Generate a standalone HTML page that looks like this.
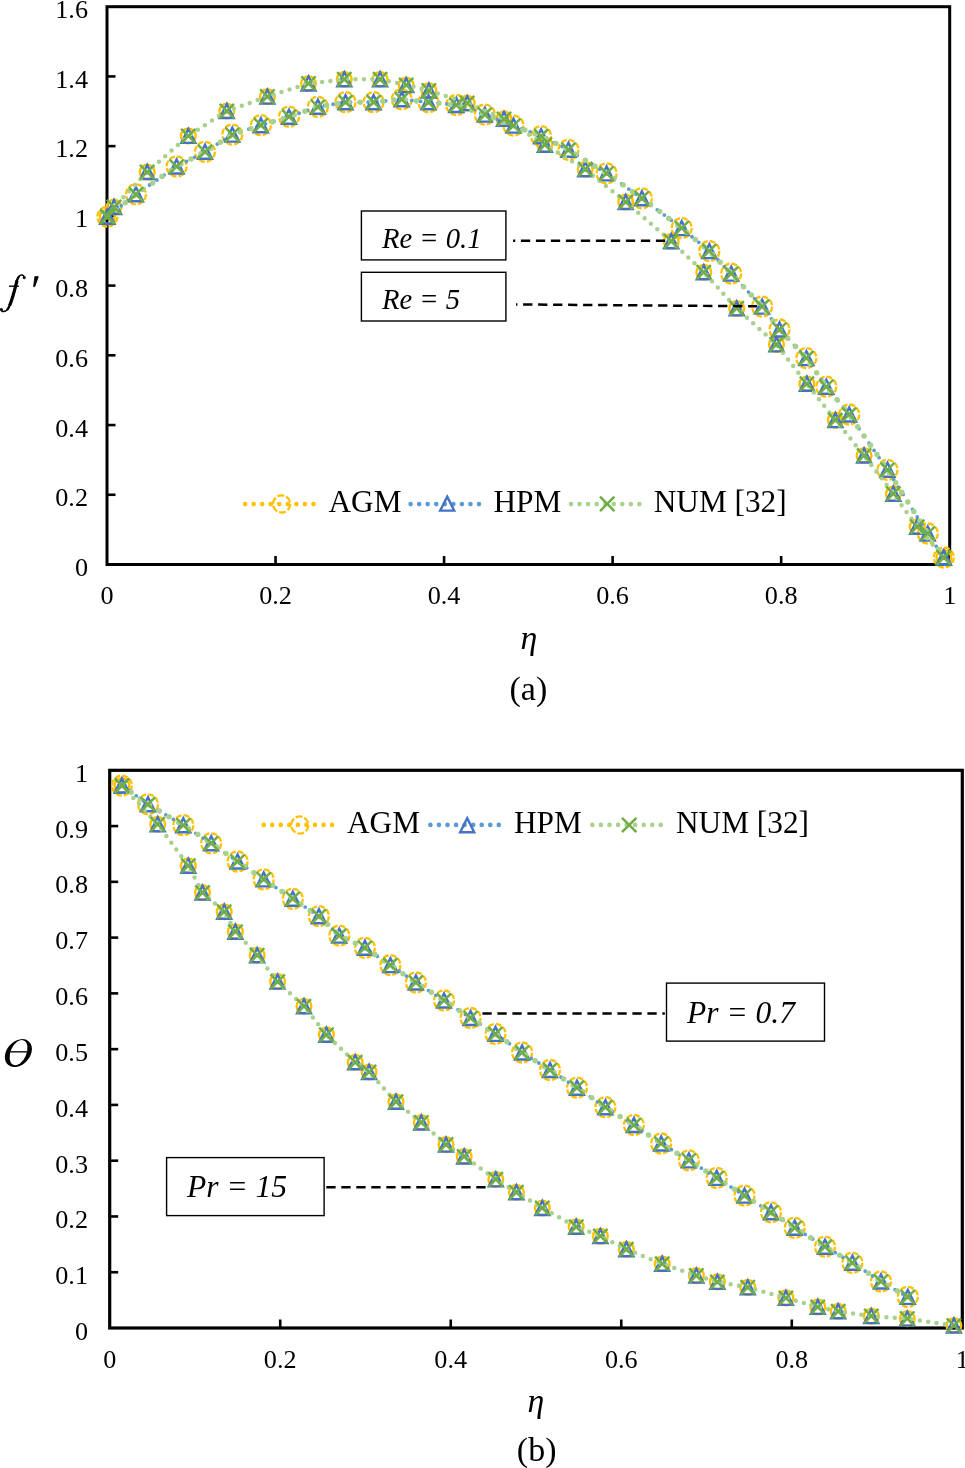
<!DOCTYPE html>
<html><head><meta charset="utf-8"><title>Figure</title>
<style>html,body{margin:0;padding:0;background:#fff;}svg{display:block;will-change:transform;}body{font-family:"Liberation Serif",serif;width:965px;height:1468px;overflow:hidden;}</style>
</head><body>
<svg width="965" height="1468" viewBox="0 0 965 1468" font-family="Liberation Serif, serif" fill="#000">
<rect width="965" height="1468" fill="#fff"/>
<text x="88.0" y="17.6" font-size="26.2" text-anchor="end" >1.6</text>
<line x1="107.0" y1="76.42" x2="115.5" y2="76.42" stroke="#000" stroke-width="2.6"/>
<text x="88.0" y="87.5" font-size="26.2" text-anchor="end" >1.4</text>
<line x1="107.0" y1="146.15" x2="115.5" y2="146.15" stroke="#000" stroke-width="2.6"/>
<text x="88.0" y="157.3" font-size="26.2" text-anchor="end" >1.2</text>
<line x1="107.0" y1="215.87" x2="115.5" y2="215.87" stroke="#000" stroke-width="2.6"/>
<text x="88.0" y="227.1" font-size="26.2" text-anchor="end" >1</text>
<line x1="107.0" y1="285.60" x2="115.5" y2="285.60" stroke="#000" stroke-width="2.6"/>
<text x="88.0" y="296.9" font-size="26.2" text-anchor="end" >0.8</text>
<line x1="107.0" y1="355.32" x2="115.5" y2="355.32" stroke="#000" stroke-width="2.6"/>
<text x="88.0" y="366.7" font-size="26.2" text-anchor="end" >0.6</text>
<line x1="107.0" y1="425.05" x2="115.5" y2="425.05" stroke="#000" stroke-width="2.6"/>
<text x="88.0" y="436.6" font-size="26.2" text-anchor="end" >0.4</text>
<line x1="107.0" y1="494.77" x2="115.5" y2="494.77" stroke="#000" stroke-width="2.6"/>
<text x="88.0" y="506.4" font-size="26.2" text-anchor="end" >0.2</text>
<text x="88.0" y="576.2" font-size="26.2" text-anchor="end" >0</text>
<text x="107.0" y="604.1" font-size="26.2" text-anchor="middle" >0</text>
<line x1="275.54" y1="564.5" x2="275.54" y2="556.0" stroke="#000" stroke-width="2.6"/>
<text x="275.5" y="604.1" font-size="26.2" text-anchor="middle" >0.2</text>
<line x1="444.08" y1="564.5" x2="444.08" y2="556.0" stroke="#000" stroke-width="2.6"/>
<text x="444.1" y="604.1" font-size="26.2" text-anchor="middle" >0.4</text>
<line x1="612.62" y1="564.5" x2="612.62" y2="556.0" stroke="#000" stroke-width="2.6"/>
<text x="612.6" y="604.1" font-size="26.2" text-anchor="middle" >0.6</text>
<line x1="781.16" y1="564.5" x2="781.16" y2="556.0" stroke="#000" stroke-width="2.6"/>
<text x="781.2" y="604.1" font-size="26.2" text-anchor="middle" >0.8</text>
<text x="949.7" y="604.1" font-size="26.2" text-anchor="middle" >1</text>
<rect x="107.0" y="6.7" width="842.7" height="557.8" fill="none" stroke="#000" stroke-width="3"/>
<circle cx="107.4" cy="216.7" r="10.0" fill="none" stroke="#FFC000" stroke-width="2.3" stroke-dasharray="5.8 2.05"/>
<circle cx="136.0" cy="194.3" r="10.0" fill="none" stroke="#FFC000" stroke-width="2.3" stroke-dasharray="5.8 2.05"/>
<circle cx="176.6" cy="166.5" r="10.0" fill="none" stroke="#FFC000" stroke-width="2.3" stroke-dasharray="5.8 2.05"/>
<circle cx="205.0" cy="151.8" r="10.0" fill="none" stroke="#FFC000" stroke-width="2.3" stroke-dasharray="5.8 2.05"/>
<circle cx="232.3" cy="134.6" r="10.0" fill="none" stroke="#FFC000" stroke-width="2.3" stroke-dasharray="5.8 2.05"/>
<circle cx="260.9" cy="125.2" r="10.0" fill="none" stroke="#FFC000" stroke-width="2.3" stroke-dasharray="5.8 2.05"/>
<circle cx="289.0" cy="116.7" r="10.0" fill="none" stroke="#FFC000" stroke-width="2.3" stroke-dasharray="5.8 2.05"/>
<circle cx="317.9" cy="106.8" r="10.0" fill="none" stroke="#FFC000" stroke-width="2.3" stroke-dasharray="5.8 2.05"/>
<circle cx="345.5" cy="102.2" r="10.0" fill="none" stroke="#FFC000" stroke-width="2.3" stroke-dasharray="5.8 2.05"/>
<circle cx="373.6" cy="102.2" r="10.0" fill="none" stroke="#FFC000" stroke-width="2.3" stroke-dasharray="5.8 2.05"/>
<circle cx="401.8" cy="99.3" r="10.0" fill="none" stroke="#FFC000" stroke-width="2.3" stroke-dasharray="5.8 2.05"/>
<circle cx="428.5" cy="102.3" r="10.0" fill="none" stroke="#FFC000" stroke-width="2.3" stroke-dasharray="5.8 2.05"/>
<circle cx="456.3" cy="105.0" r="10.0" fill="none" stroke="#FFC000" stroke-width="2.3" stroke-dasharray="5.8 2.05"/>
<circle cx="484.9" cy="114.6" r="10.0" fill="none" stroke="#FFC000" stroke-width="2.3" stroke-dasharray="5.8 2.05"/>
<circle cx="513.5" cy="125.6" r="10.0" fill="none" stroke="#FFC000" stroke-width="2.3" stroke-dasharray="5.8 2.05"/>
<circle cx="541.1" cy="136.2" r="10.0" fill="none" stroke="#FFC000" stroke-width="2.3" stroke-dasharray="5.8 2.05"/>
<circle cx="568.5" cy="149.8" r="10.0" fill="none" stroke="#FFC000" stroke-width="2.3" stroke-dasharray="5.8 2.05"/>
<circle cx="606.6" cy="173.4" r="10.0" fill="none" stroke="#FFC000" stroke-width="2.3" stroke-dasharray="5.8 2.05"/>
<circle cx="641.9" cy="198.3" r="10.0" fill="none" stroke="#FFC000" stroke-width="2.3" stroke-dasharray="5.8 2.05"/>
<circle cx="681.7" cy="228.1" r="10.0" fill="none" stroke="#FFC000" stroke-width="2.3" stroke-dasharray="5.8 2.05"/>
<circle cx="709.3" cy="251.1" r="10.0" fill="none" stroke="#FFC000" stroke-width="2.3" stroke-dasharray="5.8 2.05"/>
<circle cx="731.2" cy="273.6" r="10.0" fill="none" stroke="#FFC000" stroke-width="2.3" stroke-dasharray="5.8 2.05"/>
<circle cx="762.1" cy="306.6" r="10.0" fill="none" stroke="#FFC000" stroke-width="2.3" stroke-dasharray="5.8 2.05"/>
<circle cx="779.5" cy="329.5" r="10.0" fill="none" stroke="#FFC000" stroke-width="2.3" stroke-dasharray="5.8 2.05"/>
<circle cx="806.4" cy="358.1" r="10.0" fill="none" stroke="#FFC000" stroke-width="2.3" stroke-dasharray="5.8 2.05"/>
<circle cx="826.3" cy="386.7" r="10.0" fill="none" stroke="#FFC000" stroke-width="2.3" stroke-dasharray="5.8 2.05"/>
<circle cx="849.2" cy="414.5" r="10.0" fill="none" stroke="#FFC000" stroke-width="2.3" stroke-dasharray="5.8 2.05"/>
<circle cx="887.5" cy="469.8" r="10.0" fill="none" stroke="#FFC000" stroke-width="2.3" stroke-dasharray="5.8 2.05"/>
<circle cx="927.8" cy="533.5" r="10.0" fill="none" stroke="#FFC000" stroke-width="2.3" stroke-dasharray="5.8 2.05"/>
<circle cx="943.8" cy="557.5" r="10.0" fill="none" stroke="#FFC000" stroke-width="2.3" stroke-dasharray="5.8 2.05"/>
<circle cx="107.4" cy="216.7" r="7.35" fill="none" stroke="#FFC000" stroke-width="2.4" stroke-dasharray="none"/>
<circle cx="114.1" cy="207.0" r="7.35" fill="none" stroke="#FFC000" stroke-width="2.4" stroke-dasharray="none"/>
<circle cx="147.2" cy="172.0" r="7.35" fill="none" stroke="#FFC000" stroke-width="2.4" stroke-dasharray="none"/>
<circle cx="188.3" cy="135.9" r="7.35" fill="none" stroke="#FFC000" stroke-width="2.4" stroke-dasharray="none"/>
<circle cx="226.8" cy="111.0" r="7.35" fill="none" stroke="#FFC000" stroke-width="2.4" stroke-dasharray="none"/>
<circle cx="267.4" cy="96.6" r="7.35" fill="none" stroke="#FFC000" stroke-width="2.4" stroke-dasharray="none"/>
<circle cx="308.5" cy="83.5" r="7.35" fill="none" stroke="#FFC000" stroke-width="2.4" stroke-dasharray="none"/>
<circle cx="344.3" cy="79.3" r="7.35" fill="none" stroke="#FFC000" stroke-width="2.4" stroke-dasharray="none"/>
<circle cx="380.1" cy="79.3" r="7.35" fill="none" stroke="#FFC000" stroke-width="2.4" stroke-dasharray="none"/>
<circle cx="406.2" cy="85.1" r="7.35" fill="none" stroke="#FFC000" stroke-width="2.4" stroke-dasharray="none"/>
<circle cx="428.9" cy="90.6" r="7.35" fill="none" stroke="#FFC000" stroke-width="2.4" stroke-dasharray="none"/>
<circle cx="467.2" cy="103.1" r="7.35" fill="none" stroke="#FFC000" stroke-width="2.4" stroke-dasharray="none"/>
<circle cx="504.0" cy="118.9" r="7.35" fill="none" stroke="#FFC000" stroke-width="2.4" stroke-dasharray="none"/>
<circle cx="544.9" cy="144.8" r="7.35" fill="none" stroke="#FFC000" stroke-width="2.4" stroke-dasharray="none"/>
<circle cx="585.2" cy="169.2" r="7.35" fill="none" stroke="#FFC000" stroke-width="2.4" stroke-dasharray="none"/>
<circle cx="625.7" cy="202.0" r="7.35" fill="none" stroke="#FFC000" stroke-width="2.4" stroke-dasharray="none"/>
<circle cx="671.2" cy="241.3" r="7.35" fill="none" stroke="#FFC000" stroke-width="2.4" stroke-dasharray="none"/>
<circle cx="703.8" cy="272.2" r="7.35" fill="none" stroke="#FFC000" stroke-width="2.4" stroke-dasharray="none"/>
<circle cx="736.7" cy="308.4" r="7.35" fill="none" stroke="#FFC000" stroke-width="2.4" stroke-dasharray="none"/>
<circle cx="776.5" cy="344.4" r="7.35" fill="none" stroke="#FFC000" stroke-width="2.4" stroke-dasharray="none"/>
<circle cx="806.9" cy="383.7" r="7.35" fill="none" stroke="#FFC000" stroke-width="2.4" stroke-dasharray="none"/>
<circle cx="835.4" cy="420.1" r="7.35" fill="none" stroke="#FFC000" stroke-width="2.4" stroke-dasharray="none"/>
<circle cx="864.1" cy="455.5" r="7.35" fill="none" stroke="#FFC000" stroke-width="2.4" stroke-dasharray="none"/>
<circle cx="893.4" cy="493.8" r="7.35" fill="none" stroke="#FFC000" stroke-width="2.4" stroke-dasharray="none"/>
<circle cx="917.2" cy="526.7" r="7.35" fill="none" stroke="#FFC000" stroke-width="2.4" stroke-dasharray="none"/>
<circle cx="943.8" cy="557.5" r="7.35" fill="none" stroke="#FFC000" stroke-width="2.4" stroke-dasharray="none"/>
<polyline points="107.4,216.7 136.0,194.3 176.6,166.5 205.0,151.8 232.3,134.6 260.9,125.2 289.0,116.7 317.9,106.8 345.5,102.2 373.6,102.2 401.8,99.3 428.5,102.3 456.3,105.0 484.9,114.6 513.5,125.6 541.1,136.2 568.5,149.8 606.6,173.4 641.9,198.3 681.7,228.1 709.3,251.1 731.2,273.6 762.1,306.6 779.5,329.5 806.4,358.1 826.3,386.7 849.2,414.5 887.5,469.8 927.8,533.5 943.8,557.5" fill="none" stroke="#5B9BD5" stroke-width="3.8" stroke-linecap="round" stroke-linejoin="round" stroke-dasharray="0 8.8" />
<path d="M100.4,223.7 L107.4,209.7 L114.4,223.7 Z" fill="none" stroke="#4472C4" stroke-width="2.4" stroke-linejoin="miter"/>
<path d="M129.0,201.3 L136.0,187.3 L143.0,201.3 Z" fill="none" stroke="#4472C4" stroke-width="2.4" stroke-linejoin="miter"/>
<path d="M169.6,173.5 L176.6,159.5 L183.6,173.5 Z" fill="none" stroke="#4472C4" stroke-width="2.4" stroke-linejoin="miter"/>
<path d="M198.0,158.8 L205.0,144.8 L212.0,158.8 Z" fill="none" stroke="#4472C4" stroke-width="2.4" stroke-linejoin="miter"/>
<path d="M225.3,141.6 L232.3,127.6 L239.3,141.6 Z" fill="none" stroke="#4472C4" stroke-width="2.4" stroke-linejoin="miter"/>
<path d="M253.9,132.2 L260.9,118.2 L267.9,132.2 Z" fill="none" stroke="#4472C4" stroke-width="2.4" stroke-linejoin="miter"/>
<path d="M282.0,123.7 L289.0,109.7 L296.0,123.7 Z" fill="none" stroke="#4472C4" stroke-width="2.4" stroke-linejoin="miter"/>
<path d="M310.9,113.8 L317.9,99.8 L324.9,113.8 Z" fill="none" stroke="#4472C4" stroke-width="2.4" stroke-linejoin="miter"/>
<path d="M338.5,109.2 L345.5,95.2 L352.5,109.2 Z" fill="none" stroke="#4472C4" stroke-width="2.4" stroke-linejoin="miter"/>
<path d="M366.6,109.2 L373.6,95.2 L380.6,109.2 Z" fill="none" stroke="#4472C4" stroke-width="2.4" stroke-linejoin="miter"/>
<path d="M394.8,106.3 L401.8,92.3 L408.8,106.3 Z" fill="none" stroke="#4472C4" stroke-width="2.4" stroke-linejoin="miter"/>
<path d="M421.5,109.3 L428.5,95.3 L435.5,109.3 Z" fill="none" stroke="#4472C4" stroke-width="2.4" stroke-linejoin="miter"/>
<path d="M449.3,112.0 L456.3,98.0 L463.3,112.0 Z" fill="none" stroke="#4472C4" stroke-width="2.4" stroke-linejoin="miter"/>
<path d="M477.9,121.6 L484.9,107.6 L491.9,121.6 Z" fill="none" stroke="#4472C4" stroke-width="2.4" stroke-linejoin="miter"/>
<path d="M506.5,132.6 L513.5,118.6 L520.5,132.6 Z" fill="none" stroke="#4472C4" stroke-width="2.4" stroke-linejoin="miter"/>
<path d="M534.1,143.2 L541.1,129.2 L548.1,143.2 Z" fill="none" stroke="#4472C4" stroke-width="2.4" stroke-linejoin="miter"/>
<path d="M561.5,156.8 L568.5,142.8 L575.5,156.8 Z" fill="none" stroke="#4472C4" stroke-width="2.4" stroke-linejoin="miter"/>
<path d="M599.6,180.4 L606.6,166.4 L613.6,180.4 Z" fill="none" stroke="#4472C4" stroke-width="2.4" stroke-linejoin="miter"/>
<path d="M634.9,205.3 L641.9,191.3 L648.9,205.3 Z" fill="none" stroke="#4472C4" stroke-width="2.4" stroke-linejoin="miter"/>
<path d="M674.7,235.1 L681.7,221.1 L688.7,235.1 Z" fill="none" stroke="#4472C4" stroke-width="2.4" stroke-linejoin="miter"/>
<path d="M702.3,258.1 L709.3,244.1 L716.3,258.1 Z" fill="none" stroke="#4472C4" stroke-width="2.4" stroke-linejoin="miter"/>
<path d="M724.2,280.6 L731.2,266.6 L738.2,280.6 Z" fill="none" stroke="#4472C4" stroke-width="2.4" stroke-linejoin="miter"/>
<path d="M755.1,313.6 L762.1,299.6 L769.1,313.6 Z" fill="none" stroke="#4472C4" stroke-width="2.4" stroke-linejoin="miter"/>
<path d="M772.5,336.5 L779.5,322.5 L786.5,336.5 Z" fill="none" stroke="#4472C4" stroke-width="2.4" stroke-linejoin="miter"/>
<path d="M799.4,365.1 L806.4,351.1 L813.4,365.1 Z" fill="none" stroke="#4472C4" stroke-width="2.4" stroke-linejoin="miter"/>
<path d="M819.3,393.7 L826.3,379.7 L833.3,393.7 Z" fill="none" stroke="#4472C4" stroke-width="2.4" stroke-linejoin="miter"/>
<path d="M842.2,421.5 L849.2,407.5 L856.2,421.5 Z" fill="none" stroke="#4472C4" stroke-width="2.4" stroke-linejoin="miter"/>
<path d="M880.5,476.8 L887.5,462.8 L894.5,476.8 Z" fill="none" stroke="#4472C4" stroke-width="2.4" stroke-linejoin="miter"/>
<path d="M920.8,540.5 L927.8,526.5 L934.8,540.5 Z" fill="none" stroke="#4472C4" stroke-width="2.4" stroke-linejoin="miter"/>
<path d="M936.8,564.5 L943.8,550.5 L950.8,564.5 Z" fill="none" stroke="#4472C4" stroke-width="2.4" stroke-linejoin="miter"/>
<path d="M100.4,223.7 L107.4,209.7 L114.4,223.7 Z" fill="none" stroke="#4472C4" stroke-width="2.4" stroke-linejoin="miter"/>
<path d="M107.1,214.0 L114.1,200.0 L121.1,214.0 Z" fill="none" stroke="#4472C4" stroke-width="2.4" stroke-linejoin="miter"/>
<path d="M140.2,179.0 L147.2,165.0 L154.2,179.0 Z" fill="none" stroke="#4472C4" stroke-width="2.4" stroke-linejoin="miter"/>
<path d="M181.3,142.9 L188.3,128.9 L195.3,142.9 Z" fill="none" stroke="#4472C4" stroke-width="2.4" stroke-linejoin="miter"/>
<path d="M219.8,118.0 L226.8,104.0 L233.8,118.0 Z" fill="none" stroke="#4472C4" stroke-width="2.4" stroke-linejoin="miter"/>
<path d="M260.4,103.6 L267.4,89.6 L274.4,103.6 Z" fill="none" stroke="#4472C4" stroke-width="2.4" stroke-linejoin="miter"/>
<path d="M301.5,90.5 L308.5,76.5 L315.5,90.5 Z" fill="none" stroke="#4472C4" stroke-width="2.4" stroke-linejoin="miter"/>
<path d="M337.3,86.3 L344.3,72.3 L351.3,86.3 Z" fill="none" stroke="#4472C4" stroke-width="2.4" stroke-linejoin="miter"/>
<path d="M373.1,86.3 L380.1,72.3 L387.1,86.3 Z" fill="none" stroke="#4472C4" stroke-width="2.4" stroke-linejoin="miter"/>
<path d="M399.2,92.1 L406.2,78.1 L413.2,92.1 Z" fill="none" stroke="#4472C4" stroke-width="2.4" stroke-linejoin="miter"/>
<path d="M421.9,97.6 L428.9,83.6 L435.9,97.6 Z" fill="none" stroke="#4472C4" stroke-width="2.4" stroke-linejoin="miter"/>
<path d="M460.2,110.1 L467.2,96.1 L474.2,110.1 Z" fill="none" stroke="#4472C4" stroke-width="2.4" stroke-linejoin="miter"/>
<path d="M497.0,125.9 L504.0,111.9 L511.0,125.9 Z" fill="none" stroke="#4472C4" stroke-width="2.4" stroke-linejoin="miter"/>
<path d="M537.9,151.8 L544.9,137.8 L551.9,151.8 Z" fill="none" stroke="#4472C4" stroke-width="2.4" stroke-linejoin="miter"/>
<path d="M578.2,176.2 L585.2,162.2 L592.2,176.2 Z" fill="none" stroke="#4472C4" stroke-width="2.4" stroke-linejoin="miter"/>
<path d="M618.7,209.0 L625.7,195.0 L632.7,209.0 Z" fill="none" stroke="#4472C4" stroke-width="2.4" stroke-linejoin="miter"/>
<path d="M664.2,248.3 L671.2,234.3 L678.2,248.3 Z" fill="none" stroke="#4472C4" stroke-width="2.4" stroke-linejoin="miter"/>
<path d="M696.8,279.2 L703.8,265.2 L710.8,279.2 Z" fill="none" stroke="#4472C4" stroke-width="2.4" stroke-linejoin="miter"/>
<path d="M729.7,315.4 L736.7,301.4 L743.7,315.4 Z" fill="none" stroke="#4472C4" stroke-width="2.4" stroke-linejoin="miter"/>
<path d="M769.5,351.4 L776.5,337.4 L783.5,351.4 Z" fill="none" stroke="#4472C4" stroke-width="2.4" stroke-linejoin="miter"/>
<path d="M799.9,390.7 L806.9,376.7 L813.9,390.7 Z" fill="none" stroke="#4472C4" stroke-width="2.4" stroke-linejoin="miter"/>
<path d="M828.4,427.1 L835.4,413.1 L842.4,427.1 Z" fill="none" stroke="#4472C4" stroke-width="2.4" stroke-linejoin="miter"/>
<path d="M857.1,462.5 L864.1,448.5 L871.1,462.5 Z" fill="none" stroke="#4472C4" stroke-width="2.4" stroke-linejoin="miter"/>
<path d="M886.4,500.8 L893.4,486.8 L900.4,500.8 Z" fill="none" stroke="#4472C4" stroke-width="2.4" stroke-linejoin="miter"/>
<path d="M910.2,533.7 L917.2,519.7 L924.2,533.7 Z" fill="none" stroke="#4472C4" stroke-width="2.4" stroke-linejoin="miter"/>
<path d="M936.8,564.5 L943.8,550.5 L950.8,564.5 Z" fill="none" stroke="#4472C4" stroke-width="2.4" stroke-linejoin="miter"/>
<polyline points="107.4,216.7 136.0,194.3 176.6,166.5 205.0,151.8 232.3,134.6 260.9,125.2 289.0,116.7 317.9,106.8 345.5,102.2 373.6,102.2 401.8,99.3 428.5,102.3 456.3,105.0 484.9,114.6 513.5,125.6 541.1,136.2 568.5,149.8 606.6,173.4 641.9,198.3 681.7,228.1 709.3,251.1 731.2,273.6 762.1,306.6 779.5,329.5 806.4,358.1 826.3,386.7 849.2,414.5 887.5,469.8 927.8,533.5 943.8,557.5" fill="none" stroke="#A9D18E" stroke-width="5.5" stroke-linecap="round" stroke-linejoin="round" stroke-dasharray="0 11.3" />
<polyline points="107.4,216.7 114.1,207.0 147.2,172.0 188.3,135.9 226.8,111.0 267.4,96.6 308.5,83.5 344.3,79.3 380.1,79.3 406.2,85.1 428.9,90.6 467.2,103.1 504.0,118.9 544.9,144.8 585.2,169.2 625.7,202.0 671.2,241.3 703.8,272.2 736.7,308.4 776.5,344.4 806.9,383.7 835.4,420.1 864.1,455.5 893.4,493.8 917.2,526.7 943.8,557.5" fill="none" stroke="#A9D18E" stroke-width="4.5" stroke-linecap="round" stroke-linejoin="round" stroke-dasharray="0 8.4" />
<path d="M100.2,209.5 L114.6,223.8 M100.2,223.8 L114.6,209.5" fill="none" stroke="#70AD47" stroke-width="2.5"/>
<path d="M128.8,187.2 L143.2,201.5 M128.8,201.5 L143.2,187.2" fill="none" stroke="#70AD47" stroke-width="2.5"/>
<path d="M169.4,159.3 L183.8,173.7 M169.4,173.7 L183.8,159.3" fill="none" stroke="#70AD47" stroke-width="2.5"/>
<path d="M197.8,144.7 L212.2,159.0 M197.8,159.0 L212.2,144.7" fill="none" stroke="#70AD47" stroke-width="2.5"/>
<path d="M225.2,127.4 L239.5,141.8 M225.2,141.8 L239.5,127.4" fill="none" stroke="#70AD47" stroke-width="2.5"/>
<path d="M253.7,118.0 L268.0,132.3 M253.7,132.3 L268.0,118.0" fill="none" stroke="#70AD47" stroke-width="2.5"/>
<path d="M281.9,109.5 L296.1,123.9 M281.9,123.9 L296.1,109.5" fill="none" stroke="#70AD47" stroke-width="2.5"/>
<path d="M310.8,99.6 L325.0,114.0 M310.8,114.0 L325.0,99.6" fill="none" stroke="#70AD47" stroke-width="2.5"/>
<path d="M338.4,95.0 L352.6,109.4 M338.4,109.4 L352.6,95.0" fill="none" stroke="#70AD47" stroke-width="2.5"/>
<path d="M366.5,95.0 L380.8,109.4 M366.5,109.4 L380.8,95.0" fill="none" stroke="#70AD47" stroke-width="2.5"/>
<path d="M394.7,92.1 L408.9,106.5 M394.7,106.5 L408.9,92.1" fill="none" stroke="#70AD47" stroke-width="2.5"/>
<path d="M421.4,95.1 L435.6,109.5 M421.4,109.5 L435.6,95.1" fill="none" stroke="#70AD47" stroke-width="2.5"/>
<path d="M449.2,97.8 L463.4,112.2 M449.2,112.2 L463.4,97.8" fill="none" stroke="#70AD47" stroke-width="2.5"/>
<path d="M477.8,107.4 L492.0,121.8 M477.8,121.8 L492.0,107.4" fill="none" stroke="#70AD47" stroke-width="2.5"/>
<path d="M506.4,118.4 L520.6,132.8 M506.4,132.8 L520.6,118.4" fill="none" stroke="#70AD47" stroke-width="2.5"/>
<path d="M534.0,129.0 L548.2,143.3 M534.0,143.3 L548.2,129.0" fill="none" stroke="#70AD47" stroke-width="2.5"/>
<path d="M561.4,142.7 L575.6,157.0 M561.4,157.0 L575.6,142.7" fill="none" stroke="#70AD47" stroke-width="2.5"/>
<path d="M599.5,166.2 L613.8,180.6 M599.5,180.6 L613.8,166.2" fill="none" stroke="#70AD47" stroke-width="2.5"/>
<path d="M634.8,191.2 L649.0,205.5 M634.8,205.5 L649.0,191.2" fill="none" stroke="#70AD47" stroke-width="2.5"/>
<path d="M674.6,220.9 L688.9,235.2 M674.6,235.2 L688.9,220.9" fill="none" stroke="#70AD47" stroke-width="2.5"/>
<path d="M702.1,243.9 L716.4,258.2 M702.1,258.2 L716.4,243.9" fill="none" stroke="#70AD47" stroke-width="2.5"/>
<path d="M724.1,266.5 L738.4,280.8 M724.1,280.8 L738.4,266.5" fill="none" stroke="#70AD47" stroke-width="2.5"/>
<path d="M755.0,299.5 L769.2,313.8 M755.0,313.8 L769.2,299.5" fill="none" stroke="#70AD47" stroke-width="2.5"/>
<path d="M772.4,322.4 L786.6,336.6 M772.4,336.6 L786.6,322.4" fill="none" stroke="#70AD47" stroke-width="2.5"/>
<path d="M799.2,351.0 L813.5,365.2 M799.2,365.2 L813.5,351.0" fill="none" stroke="#70AD47" stroke-width="2.5"/>
<path d="M819.1,379.6 L833.4,393.8 M819.1,393.8 L833.4,379.6" fill="none" stroke="#70AD47" stroke-width="2.5"/>
<path d="M842.1,407.4 L856.4,421.6 M842.1,421.6 L856.4,407.4" fill="none" stroke="#70AD47" stroke-width="2.5"/>
<path d="M880.4,462.7 L894.6,476.9 M880.4,476.9 L894.6,462.7" fill="none" stroke="#70AD47" stroke-width="2.5"/>
<path d="M920.6,526.4 L934.9,540.6 M920.6,540.6 L934.9,526.4" fill="none" stroke="#70AD47" stroke-width="2.5"/>
<path d="M936.6,550.4 L950.9,564.6 M936.6,564.6 L950.9,550.4" fill="none" stroke="#70AD47" stroke-width="2.5"/>
<path d="M100.2,209.5 L114.6,223.8 M100.2,223.8 L114.6,209.5" fill="none" stroke="#70AD47" stroke-width="2.5"/>
<path d="M106.9,199.8 L121.2,214.2 M106.9,214.2 L121.2,199.8" fill="none" stroke="#70AD47" stroke-width="2.5"/>
<path d="M140.0,164.8 L154.3,179.2 M140.0,179.2 L154.3,164.8" fill="none" stroke="#70AD47" stroke-width="2.5"/>
<path d="M181.2,128.8 L195.5,143.1 M181.2,143.1 L195.5,128.8" fill="none" stroke="#70AD47" stroke-width="2.5"/>
<path d="M219.7,103.8 L234.0,118.2 M219.7,118.2 L234.0,103.8" fill="none" stroke="#70AD47" stroke-width="2.5"/>
<path d="M260.2,89.4 L274.5,103.8 M260.2,103.8 L274.5,89.4" fill="none" stroke="#70AD47" stroke-width="2.5"/>
<path d="M301.4,76.3 L315.6,90.7 M301.4,90.7 L315.6,76.3" fill="none" stroke="#70AD47" stroke-width="2.5"/>
<path d="M337.2,72.1 L351.4,86.5 M337.2,86.5 L351.4,72.1" fill="none" stroke="#70AD47" stroke-width="2.5"/>
<path d="M373.0,72.1 L387.2,86.5 M373.0,86.5 L387.2,72.1" fill="none" stroke="#70AD47" stroke-width="2.5"/>
<path d="M399.1,77.9 L413.3,92.2 M399.1,92.2 L413.3,77.9" fill="none" stroke="#70AD47" stroke-width="2.5"/>
<path d="M421.8,83.4 L436.0,97.8 M421.8,97.8 L436.0,83.4" fill="none" stroke="#70AD47" stroke-width="2.5"/>
<path d="M460.1,95.9 L474.3,110.2 M460.1,110.2 L474.3,95.9" fill="none" stroke="#70AD47" stroke-width="2.5"/>
<path d="M496.9,111.8 L511.1,126.1 M496.9,126.1 L511.1,111.8" fill="none" stroke="#70AD47" stroke-width="2.5"/>
<path d="M537.8,137.7 L552.0,152.0 M537.8,152.0 L552.0,137.7" fill="none" stroke="#70AD47" stroke-width="2.5"/>
<path d="M578.1,162.0 L592.4,176.3 M578.1,176.3 L592.4,162.0" fill="none" stroke="#70AD47" stroke-width="2.5"/>
<path d="M618.6,194.8 L632.9,209.2 M618.6,209.2 L632.9,194.8" fill="none" stroke="#70AD47" stroke-width="2.5"/>
<path d="M664.1,234.2 L678.4,248.5 M664.1,248.5 L678.4,234.2" fill="none" stroke="#70AD47" stroke-width="2.5"/>
<path d="M696.6,265.1 L710.9,279.3 M696.6,279.3 L710.9,265.1" fill="none" stroke="#70AD47" stroke-width="2.5"/>
<path d="M729.6,301.2 L743.9,315.5 M729.6,315.5 L743.9,301.2" fill="none" stroke="#70AD47" stroke-width="2.5"/>
<path d="M769.4,337.2 L783.6,351.5 M769.4,351.5 L783.6,337.2" fill="none" stroke="#70AD47" stroke-width="2.5"/>
<path d="M799.8,376.6 L814.0,390.8 M799.8,390.8 L814.0,376.6" fill="none" stroke="#70AD47" stroke-width="2.5"/>
<path d="M828.2,413.0 L842.5,427.2 M828.2,427.2 L842.5,413.0" fill="none" stroke="#70AD47" stroke-width="2.5"/>
<path d="M857.0,448.4 L871.2,462.6 M857.0,462.6 L871.2,448.4" fill="none" stroke="#70AD47" stroke-width="2.5"/>
<path d="M886.2,486.7 L900.5,500.9 M886.2,500.9 L900.5,486.7" fill="none" stroke="#70AD47" stroke-width="2.5"/>
<path d="M910.1,519.6 L924.4,533.9 M910.1,533.9 L924.4,519.6" fill="none" stroke="#70AD47" stroke-width="2.5"/>
<path d="M936.6,550.4 L950.9,564.6 M936.6,564.6 L950.9,550.4" fill="none" stroke="#70AD47" stroke-width="2.5"/>
<line x1="513.1" y1="240.7" x2="666" y2="240.7" stroke="#000" stroke-width="2.5" stroke-dasharray="9.3 5.7" stroke-dashoffset="7.2"/>
<line x1="516" y1="304.4" x2="757" y2="306.3" stroke="#000" stroke-width="2.5" stroke-dasharray="9.3 5.7" stroke-dashoffset="7.9"/>
<rect x="361.4" y="211" width="144.5" height="48.9" fill="#fff" stroke="#000" stroke-width="1.4"/>
<rect x="361.4" y="272.3" width="144.5" height="48.7" fill="#fff" stroke="#000" stroke-width="1.4"/>
<text x="382.0" y="247.8" font-size="28.6" text-anchor="start" font-style="italic" >Re = 0.1</text>
<text x="382.0" y="308.6" font-size="28.6" text-anchor="start" font-style="italic" >Re = 5</text>
<line x1="245.1" y1="504.1" x2="313.7" y2="504.1" stroke="#FFC000" stroke-width="4.6" stroke-linecap="round" stroke-dasharray="0 8.55"/>
<line x1="410.6" y1="504.1" x2="479.20000000000005" y2="504.1" stroke="#5B9BD5" stroke-width="4.6" stroke-linecap="round" stroke-dasharray="0 8.55"/>
<line x1="571.0" y1="504.1" x2="639.6" y2="504.1" stroke="#A9D18E" stroke-width="4.6" stroke-linecap="round" stroke-dasharray="0 8.55"/>
<circle cx="281.6" cy="503.9" r="8.6" fill="none" stroke="#FFC000" stroke-width="2.3" stroke-dasharray="6.9 2.1"/>
<path d="M440.2,510.6 L447.2,496.6 L454.2,510.6 Z" fill="none" stroke="#4472C4" stroke-width="2.4" stroke-linejoin="miter"/>
<path d="M600.0,496.7 L614.4,511.1 M600.0,511.1 L614.4,496.7" fill="none" stroke="#70AD47" stroke-width="2.5"/>
<text x="328.5" y="512.2" font-size="31.3" text-anchor="start" >AGM</text>
<text x="493.4" y="512.2" font-size="31.3" text-anchor="start" >HPM</text>
<text x="653.7" y="512.2" font-size="31.3" text-anchor="start" >NUM [32]</text>
<g fill="none" stroke="#000" stroke-linecap="round"><path d="M24.2,277.0 C23.9,275.6 22.6,274.9 21.5,275.0 C19.6,275.2 18.0,277.3 17.2,279.8" stroke-width="1.5"/><path d="M18.7,276.9 C17.9,278.0 17.3,279.3 16.8,281.0" stroke-width="2.3"/><path d="M17.0,280.5 C15.6,286.0 13.0,297.5 9.6,305.6" stroke-width="3.2" stroke-linecap="butt"/><path d="M9.9,304.8 C9.2,306.6 8.4,308.2 7.4,309.4" stroke-width="2.3"/><path d="M9.4,306.2 C8.0,309.3 6.0,311.5 3.4,311.6 C2.2,311.6 1.4,310.8 1.3,309.6" stroke-width="1.5"/><path d="M9.1,286.2 L18.9,286.2" stroke-width="1.4" stroke-linecap="butt"/></g>
<circle cx="24.3" cy="277.6" r="1.55"/><circle cx="1.4" cy="309.5" r="1.55"/>
<path d="M34.9,276.5 L38.3,276.7 L34.8,286.6 L33.6,286.6 Z" fill="#000" stroke="#000" stroke-width="0.8" stroke-linejoin="round"/>
<text x="528.8" y="649.0" font-size="33.8" text-anchor="middle" font-style="italic" >η</text>
<text x="528.4" y="699.6" font-size="34" text-anchor="middle" >(a)</text>
<text x="88.0" y="781.8" font-size="26.2" text-anchor="end" >1</text>
<line x1="109.7" y1="826.07" x2="118.2" y2="826.07" stroke="#000" stroke-width="2.6"/>
<text x="88.0" y="837.6" font-size="26.2" text-anchor="end" >0.9</text>
<line x1="109.7" y1="881.84" x2="118.2" y2="881.84" stroke="#000" stroke-width="2.6"/>
<text x="88.0" y="893.4" font-size="26.2" text-anchor="end" >0.8</text>
<line x1="109.7" y1="937.61" x2="118.2" y2="937.61" stroke="#000" stroke-width="2.6"/>
<text x="88.0" y="949.3" font-size="26.2" text-anchor="end" >0.7</text>
<line x1="109.7" y1="993.38" x2="118.2" y2="993.38" stroke="#000" stroke-width="2.6"/>
<text x="88.0" y="1005.1" font-size="26.2" text-anchor="end" >0.6</text>
<line x1="109.7" y1="1049.15" x2="118.2" y2="1049.15" stroke="#000" stroke-width="2.6"/>
<text x="88.0" y="1060.9" font-size="26.2" text-anchor="end" >0.5</text>
<line x1="109.7" y1="1104.92" x2="118.2" y2="1104.92" stroke="#000" stroke-width="2.6"/>
<text x="88.0" y="1116.7" font-size="26.2" text-anchor="end" >0.4</text>
<line x1="109.7" y1="1160.69" x2="118.2" y2="1160.69" stroke="#000" stroke-width="2.6"/>
<text x="88.0" y="1172.5" font-size="26.2" text-anchor="end" >0.3</text>
<line x1="109.7" y1="1216.46" x2="118.2" y2="1216.46" stroke="#000" stroke-width="2.6"/>
<text x="88.0" y="1228.4" font-size="26.2" text-anchor="end" >0.2</text>
<line x1="109.7" y1="1272.23" x2="118.2" y2="1272.23" stroke="#000" stroke-width="2.6"/>
<text x="88.0" y="1284.2" font-size="26.2" text-anchor="end" >0.1</text>
<text x="88.0" y="1340.0" font-size="26.2" text-anchor="end" >0</text>
<text x="109.7" y="1368.0" font-size="26.2" text-anchor="middle" >0</text>
<line x1="280.22" y1="1328.0" x2="280.22" y2="1319.5" stroke="#000" stroke-width="2.6"/>
<text x="280.2" y="1368.0" font-size="26.2" text-anchor="middle" >0.2</text>
<line x1="450.74" y1="1328.0" x2="450.74" y2="1319.5" stroke="#000" stroke-width="2.6"/>
<text x="450.7" y="1368.0" font-size="26.2" text-anchor="middle" >0.4</text>
<line x1="621.26" y1="1328.0" x2="621.26" y2="1319.5" stroke="#000" stroke-width="2.6"/>
<text x="621.3" y="1368.0" font-size="26.2" text-anchor="middle" >0.6</text>
<line x1="791.78" y1="1328.0" x2="791.78" y2="1319.5" stroke="#000" stroke-width="2.6"/>
<text x="791.8" y="1368.0" font-size="26.2" text-anchor="middle" >0.8</text>
<text x="962.3" y="1368.0" font-size="26.2" text-anchor="middle" >1</text>
<rect x="109.7" y="770.3" width="852.60" height="557.70" fill="none" stroke="#000" stroke-width="3.2"/>
<circle cx="121.9" cy="785.6" r="10.0" fill="none" stroke="#FFC000" stroke-width="2.3" stroke-dasharray="5.8 2.05"/>
<circle cx="148.0" cy="804.3" r="10.0" fill="none" stroke="#FFC000" stroke-width="2.3" stroke-dasharray="5.8 2.05"/>
<circle cx="183.3" cy="825.2" r="10.0" fill="none" stroke="#FFC000" stroke-width="2.3" stroke-dasharray="5.8 2.05"/>
<circle cx="211.2" cy="843.3" r="10.0" fill="none" stroke="#FFC000" stroke-width="2.3" stroke-dasharray="5.8 2.05"/>
<circle cx="237.6" cy="861.5" r="10.0" fill="none" stroke="#FFC000" stroke-width="2.3" stroke-dasharray="5.8 2.05"/>
<circle cx="263.7" cy="879.4" r="10.0" fill="none" stroke="#FFC000" stroke-width="2.3" stroke-dasharray="5.8 2.05"/>
<circle cx="292.8" cy="898.8" r="10.0" fill="none" stroke="#FFC000" stroke-width="2.3" stroke-dasharray="5.8 2.05"/>
<circle cx="318.9" cy="916.2" r="10.0" fill="none" stroke="#FFC000" stroke-width="2.3" stroke-dasharray="5.8 2.05"/>
<circle cx="339.3" cy="935.6" r="10.0" fill="none" stroke="#FFC000" stroke-width="2.3" stroke-dasharray="5.8 2.05"/>
<circle cx="364.9" cy="947.8" r="10.0" fill="none" stroke="#FFC000" stroke-width="2.3" stroke-dasharray="5.8 2.05"/>
<circle cx="390.4" cy="965.1" r="10.0" fill="none" stroke="#FFC000" stroke-width="2.3" stroke-dasharray="5.8 2.05"/>
<circle cx="415.9" cy="982.5" r="10.0" fill="none" stroke="#FFC000" stroke-width="2.3" stroke-dasharray="5.8 2.05"/>
<circle cx="444.0" cy="1000.5" r="10.0" fill="none" stroke="#FFC000" stroke-width="2.3" stroke-dasharray="5.8 2.05"/>
<circle cx="470.6" cy="1018.0" r="10.0" fill="none" stroke="#FFC000" stroke-width="2.3" stroke-dasharray="5.8 2.05"/>
<circle cx="495.5" cy="1033.9" r="10.0" fill="none" stroke="#FFC000" stroke-width="2.3" stroke-dasharray="5.8 2.05"/>
<circle cx="522.1" cy="1052.5" r="10.0" fill="none" stroke="#FFC000" stroke-width="2.3" stroke-dasharray="5.8 2.05"/>
<circle cx="550.0" cy="1070.0" r="10.0" fill="none" stroke="#FFC000" stroke-width="2.3" stroke-dasharray="5.8 2.05"/>
<circle cx="577.0" cy="1087.7" r="10.0" fill="none" stroke="#FFC000" stroke-width="2.3" stroke-dasharray="5.8 2.05"/>
<circle cx="605.4" cy="1107.2" r="10.0" fill="none" stroke="#FFC000" stroke-width="2.3" stroke-dasharray="5.8 2.05"/>
<circle cx="633.9" cy="1125.0" r="10.0" fill="none" stroke="#FFC000" stroke-width="2.3" stroke-dasharray="5.8 2.05"/>
<circle cx="661.2" cy="1143.5" r="10.0" fill="none" stroke="#FFC000" stroke-width="2.3" stroke-dasharray="5.8 2.05"/>
<circle cx="688.9" cy="1160.4" r="10.0" fill="none" stroke="#FFC000" stroke-width="2.3" stroke-dasharray="5.8 2.05"/>
<circle cx="716.7" cy="1177.9" r="10.0" fill="none" stroke="#FFC000" stroke-width="2.3" stroke-dasharray="5.8 2.05"/>
<circle cx="744.5" cy="1195.6" r="10.0" fill="none" stroke="#FFC000" stroke-width="2.3" stroke-dasharray="5.8 2.05"/>
<circle cx="771.0" cy="1212.3" r="10.0" fill="none" stroke="#FFC000" stroke-width="2.3" stroke-dasharray="5.8 2.05"/>
<circle cx="794.7" cy="1227.8" r="10.0" fill="none" stroke="#FFC000" stroke-width="2.3" stroke-dasharray="5.8 2.05"/>
<circle cx="825.0" cy="1246.7" r="10.0" fill="none" stroke="#FFC000" stroke-width="2.3" stroke-dasharray="5.8 2.05"/>
<circle cx="852.4" cy="1262.8" r="10.0" fill="none" stroke="#FFC000" stroke-width="2.3" stroke-dasharray="5.8 2.05"/>
<circle cx="881.0" cy="1281.5" r="10.0" fill="none" stroke="#FFC000" stroke-width="2.3" stroke-dasharray="5.8 2.05"/>
<circle cx="907.8" cy="1296.9" r="10.0" fill="none" stroke="#FFC000" stroke-width="2.3" stroke-dasharray="5.8 2.05"/>
<circle cx="121.9" cy="785.6" r="7.35" fill="none" stroke="#FFC000" stroke-width="2.4" stroke-dasharray="none"/>
<circle cx="157.7" cy="824.2" r="7.35" fill="none" stroke="#FFC000" stroke-width="2.4" stroke-dasharray="none"/>
<circle cx="188.3" cy="865.7" r="7.35" fill="none" stroke="#FFC000" stroke-width="2.4" stroke-dasharray="none"/>
<circle cx="202.5" cy="892.6" r="7.35" fill="none" stroke="#FFC000" stroke-width="2.4" stroke-dasharray="none"/>
<circle cx="224.2" cy="911.8" r="7.35" fill="none" stroke="#FFC000" stroke-width="2.4" stroke-dasharray="none"/>
<circle cx="235.4" cy="931.7" r="7.35" fill="none" stroke="#FFC000" stroke-width="2.4" stroke-dasharray="none"/>
<circle cx="257.2" cy="955.2" r="7.35" fill="none" stroke="#FFC000" stroke-width="2.4" stroke-dasharray="none"/>
<circle cx="277.6" cy="981.6" r="7.35" fill="none" stroke="#FFC000" stroke-width="2.4" stroke-dasharray="none"/>
<circle cx="304.0" cy="1006.2" r="7.35" fill="none" stroke="#FFC000" stroke-width="2.4" stroke-dasharray="none"/>
<circle cx="326.4" cy="1034.8" r="7.35" fill="none" stroke="#FFC000" stroke-width="2.4" stroke-dasharray="none"/>
<circle cx="355.2" cy="1062.3" r="7.35" fill="none" stroke="#FFC000" stroke-width="2.4" stroke-dasharray="none"/>
<circle cx="369.1" cy="1072.0" r="7.35" fill="none" stroke="#FFC000" stroke-width="2.4" stroke-dasharray="none"/>
<circle cx="396.0" cy="1101.8" r="7.35" fill="none" stroke="#FFC000" stroke-width="2.4" stroke-dasharray="none"/>
<circle cx="421.3" cy="1122.5" r="7.35" fill="none" stroke="#FFC000" stroke-width="2.4" stroke-dasharray="none"/>
<circle cx="446.0" cy="1144.6" r="7.35" fill="none" stroke="#FFC000" stroke-width="2.4" stroke-dasharray="none"/>
<circle cx="464.2" cy="1156.5" r="7.35" fill="none" stroke="#FFC000" stroke-width="2.4" stroke-dasharray="none"/>
<circle cx="495.8" cy="1179.4" r="7.35" fill="none" stroke="#FFC000" stroke-width="2.4" stroke-dasharray="none"/>
<circle cx="516.4" cy="1192.3" r="7.35" fill="none" stroke="#FFC000" stroke-width="2.4" stroke-dasharray="none"/>
<circle cx="542.3" cy="1208.0" r="7.35" fill="none" stroke="#FFC000" stroke-width="2.4" stroke-dasharray="none"/>
<circle cx="576.2" cy="1226.8" r="7.35" fill="none" stroke="#FFC000" stroke-width="2.4" stroke-dasharray="none"/>
<circle cx="600.4" cy="1236.1" r="7.35" fill="none" stroke="#FFC000" stroke-width="2.4" stroke-dasharray="none"/>
<circle cx="626.4" cy="1249.3" r="7.35" fill="none" stroke="#FFC000" stroke-width="2.4" stroke-dasharray="none"/>
<circle cx="662.2" cy="1263.8" r="7.35" fill="none" stroke="#FFC000" stroke-width="2.4" stroke-dasharray="none"/>
<circle cx="696.4" cy="1275.6" r="7.35" fill="none" stroke="#FFC000" stroke-width="2.4" stroke-dasharray="none"/>
<circle cx="717.4" cy="1281.9" r="7.35" fill="none" stroke="#FFC000" stroke-width="2.4" stroke-dasharray="none"/>
<circle cx="747.8" cy="1287.4" r="7.35" fill="none" stroke="#FFC000" stroke-width="2.4" stroke-dasharray="none"/>
<circle cx="785.9" cy="1297.9" r="7.35" fill="none" stroke="#FFC000" stroke-width="2.4" stroke-dasharray="none"/>
<circle cx="817.8" cy="1306.9" r="7.35" fill="none" stroke="#FFC000" stroke-width="2.4" stroke-dasharray="none"/>
<circle cx="838.2" cy="1311.3" r="7.35" fill="none" stroke="#FFC000" stroke-width="2.4" stroke-dasharray="none"/>
<circle cx="871.3" cy="1316.1" r="7.35" fill="none" stroke="#FFC000" stroke-width="2.4" stroke-dasharray="none"/>
<circle cx="907.3" cy="1318.6" r="7.35" fill="none" stroke="#FFC000" stroke-width="2.4" stroke-dasharray="none"/>
<circle cx="953.9" cy="1325.5" r="7.35" fill="none" stroke="#FFC000" stroke-width="2.4" stroke-dasharray="none"/>
<polyline points="121.9,785.6 148.0,804.3 183.3,825.2 211.2,843.3 237.6,861.5 263.7,879.4 292.8,898.8 318.9,916.2 339.3,935.6 364.9,947.8 390.4,965.1 415.9,982.5 444.0,1000.5 470.6,1018.0 495.5,1033.9 522.1,1052.5 550.0,1070.0 577.0,1087.7 605.4,1107.2 633.9,1125.0 661.2,1143.5 688.9,1160.4 716.7,1177.9 744.5,1195.6 771.0,1212.3 794.7,1227.8 825.0,1246.7 852.4,1262.8 881.0,1281.5 907.8,1296.9" fill="none" stroke="#5B9BD5" stroke-width="3.8" stroke-linecap="round" stroke-linejoin="round" stroke-dasharray="0 8.8" />
<path d="M114.9,792.6 L121.9,778.6 L128.9,792.6 Z" fill="none" stroke="#4472C4" stroke-width="2.4" stroke-linejoin="miter"/>
<path d="M141.0,811.3 L148.0,797.3 L155.0,811.3 Z" fill="none" stroke="#4472C4" stroke-width="2.4" stroke-linejoin="miter"/>
<path d="M176.3,832.2 L183.3,818.2 L190.3,832.2 Z" fill="none" stroke="#4472C4" stroke-width="2.4" stroke-linejoin="miter"/>
<path d="M204.2,850.3 L211.2,836.3 L218.2,850.3 Z" fill="none" stroke="#4472C4" stroke-width="2.4" stroke-linejoin="miter"/>
<path d="M230.6,868.5 L237.6,854.5 L244.6,868.5 Z" fill="none" stroke="#4472C4" stroke-width="2.4" stroke-linejoin="miter"/>
<path d="M256.7,886.4 L263.7,872.4 L270.7,886.4 Z" fill="none" stroke="#4472C4" stroke-width="2.4" stroke-linejoin="miter"/>
<path d="M285.8,905.8 L292.8,891.8 L299.8,905.8 Z" fill="none" stroke="#4472C4" stroke-width="2.4" stroke-linejoin="miter"/>
<path d="M311.9,923.2 L318.9,909.2 L325.9,923.2 Z" fill="none" stroke="#4472C4" stroke-width="2.4" stroke-linejoin="miter"/>
<path d="M332.3,942.6 L339.3,928.6 L346.3,942.6 Z" fill="none" stroke="#4472C4" stroke-width="2.4" stroke-linejoin="miter"/>
<path d="M357.9,954.8 L364.9,940.8 L371.9,954.8 Z" fill="none" stroke="#4472C4" stroke-width="2.4" stroke-linejoin="miter"/>
<path d="M383.4,972.1 L390.4,958.1 L397.4,972.1 Z" fill="none" stroke="#4472C4" stroke-width="2.4" stroke-linejoin="miter"/>
<path d="M408.9,989.5 L415.9,975.5 L422.9,989.5 Z" fill="none" stroke="#4472C4" stroke-width="2.4" stroke-linejoin="miter"/>
<path d="M437.0,1007.5 L444.0,993.5 L451.0,1007.5 Z" fill="none" stroke="#4472C4" stroke-width="2.4" stroke-linejoin="miter"/>
<path d="M463.6,1025.0 L470.6,1011.0 L477.6,1025.0 Z" fill="none" stroke="#4472C4" stroke-width="2.4" stroke-linejoin="miter"/>
<path d="M488.5,1040.9 L495.5,1026.9 L502.5,1040.9 Z" fill="none" stroke="#4472C4" stroke-width="2.4" stroke-linejoin="miter"/>
<path d="M515.1,1059.5 L522.1,1045.5 L529.1,1059.5 Z" fill="none" stroke="#4472C4" stroke-width="2.4" stroke-linejoin="miter"/>
<path d="M543.0,1077.0 L550.0,1063.0 L557.0,1077.0 Z" fill="none" stroke="#4472C4" stroke-width="2.4" stroke-linejoin="miter"/>
<path d="M570.0,1094.7 L577.0,1080.7 L584.0,1094.7 Z" fill="none" stroke="#4472C4" stroke-width="2.4" stroke-linejoin="miter"/>
<path d="M598.4,1114.2 L605.4,1100.2 L612.4,1114.2 Z" fill="none" stroke="#4472C4" stroke-width="2.4" stroke-linejoin="miter"/>
<path d="M626.9,1132.0 L633.9,1118.0 L640.9,1132.0 Z" fill="none" stroke="#4472C4" stroke-width="2.4" stroke-linejoin="miter"/>
<path d="M654.2,1150.5 L661.2,1136.5 L668.2,1150.5 Z" fill="none" stroke="#4472C4" stroke-width="2.4" stroke-linejoin="miter"/>
<path d="M681.9,1167.4 L688.9,1153.4 L695.9,1167.4 Z" fill="none" stroke="#4472C4" stroke-width="2.4" stroke-linejoin="miter"/>
<path d="M709.7,1184.9 L716.7,1170.9 L723.7,1184.9 Z" fill="none" stroke="#4472C4" stroke-width="2.4" stroke-linejoin="miter"/>
<path d="M737.5,1202.6 L744.5,1188.6 L751.5,1202.6 Z" fill="none" stroke="#4472C4" stroke-width="2.4" stroke-linejoin="miter"/>
<path d="M764.0,1219.3 L771.0,1205.3 L778.0,1219.3 Z" fill="none" stroke="#4472C4" stroke-width="2.4" stroke-linejoin="miter"/>
<path d="M787.7,1234.8 L794.7,1220.8 L801.7,1234.8 Z" fill="none" stroke="#4472C4" stroke-width="2.4" stroke-linejoin="miter"/>
<path d="M818.0,1253.7 L825.0,1239.7 L832.0,1253.7 Z" fill="none" stroke="#4472C4" stroke-width="2.4" stroke-linejoin="miter"/>
<path d="M845.4,1269.8 L852.4,1255.8 L859.4,1269.8 Z" fill="none" stroke="#4472C4" stroke-width="2.4" stroke-linejoin="miter"/>
<path d="M874.0,1288.5 L881.0,1274.5 L888.0,1288.5 Z" fill="none" stroke="#4472C4" stroke-width="2.4" stroke-linejoin="miter"/>
<path d="M900.8,1303.9 L907.8,1289.9 L914.8,1303.9 Z" fill="none" stroke="#4472C4" stroke-width="2.4" stroke-linejoin="miter"/>
<path d="M114.9,792.6 L121.9,778.6 L128.9,792.6 Z" fill="none" stroke="#4472C4" stroke-width="2.4" stroke-linejoin="miter"/>
<path d="M150.7,831.2 L157.7,817.2 L164.7,831.2 Z" fill="none" stroke="#4472C4" stroke-width="2.4" stroke-linejoin="miter"/>
<path d="M181.3,872.7 L188.3,858.7 L195.3,872.7 Z" fill="none" stroke="#4472C4" stroke-width="2.4" stroke-linejoin="miter"/>
<path d="M195.5,899.6 L202.5,885.6 L209.5,899.6 Z" fill="none" stroke="#4472C4" stroke-width="2.4" stroke-linejoin="miter"/>
<path d="M217.2,918.8 L224.2,904.8 L231.2,918.8 Z" fill="none" stroke="#4472C4" stroke-width="2.4" stroke-linejoin="miter"/>
<path d="M228.4,938.7 L235.4,924.7 L242.4,938.7 Z" fill="none" stroke="#4472C4" stroke-width="2.4" stroke-linejoin="miter"/>
<path d="M250.2,962.2 L257.2,948.2 L264.2,962.2 Z" fill="none" stroke="#4472C4" stroke-width="2.4" stroke-linejoin="miter"/>
<path d="M270.6,988.6 L277.6,974.6 L284.6,988.6 Z" fill="none" stroke="#4472C4" stroke-width="2.4" stroke-linejoin="miter"/>
<path d="M297.0,1013.2 L304.0,999.2 L311.0,1013.2 Z" fill="none" stroke="#4472C4" stroke-width="2.4" stroke-linejoin="miter"/>
<path d="M319.4,1041.8 L326.4,1027.8 L333.4,1041.8 Z" fill="none" stroke="#4472C4" stroke-width="2.4" stroke-linejoin="miter"/>
<path d="M348.2,1069.3 L355.2,1055.3 L362.2,1069.3 Z" fill="none" stroke="#4472C4" stroke-width="2.4" stroke-linejoin="miter"/>
<path d="M362.1,1079.0 L369.1,1065.0 L376.1,1079.0 Z" fill="none" stroke="#4472C4" stroke-width="2.4" stroke-linejoin="miter"/>
<path d="M389.0,1108.8 L396.0,1094.8 L403.0,1108.8 Z" fill="none" stroke="#4472C4" stroke-width="2.4" stroke-linejoin="miter"/>
<path d="M414.3,1129.5 L421.3,1115.5 L428.3,1129.5 Z" fill="none" stroke="#4472C4" stroke-width="2.4" stroke-linejoin="miter"/>
<path d="M439.0,1151.6 L446.0,1137.6 L453.0,1151.6 Z" fill="none" stroke="#4472C4" stroke-width="2.4" stroke-linejoin="miter"/>
<path d="M457.2,1163.5 L464.2,1149.5 L471.2,1163.5 Z" fill="none" stroke="#4472C4" stroke-width="2.4" stroke-linejoin="miter"/>
<path d="M488.8,1186.4 L495.8,1172.4 L502.8,1186.4 Z" fill="none" stroke="#4472C4" stroke-width="2.4" stroke-linejoin="miter"/>
<path d="M509.4,1199.3 L516.4,1185.3 L523.4,1199.3 Z" fill="none" stroke="#4472C4" stroke-width="2.4" stroke-linejoin="miter"/>
<path d="M535.3,1215.0 L542.3,1201.0 L549.3,1215.0 Z" fill="none" stroke="#4472C4" stroke-width="2.4" stroke-linejoin="miter"/>
<path d="M569.2,1233.8 L576.2,1219.8 L583.2,1233.8 Z" fill="none" stroke="#4472C4" stroke-width="2.4" stroke-linejoin="miter"/>
<path d="M593.4,1243.1 L600.4,1229.1 L607.4,1243.1 Z" fill="none" stroke="#4472C4" stroke-width="2.4" stroke-linejoin="miter"/>
<path d="M619.4,1256.3 L626.4,1242.3 L633.4,1256.3 Z" fill="none" stroke="#4472C4" stroke-width="2.4" stroke-linejoin="miter"/>
<path d="M655.2,1270.8 L662.2,1256.8 L669.2,1270.8 Z" fill="none" stroke="#4472C4" stroke-width="2.4" stroke-linejoin="miter"/>
<path d="M689.4,1282.6 L696.4,1268.6 L703.4,1282.6 Z" fill="none" stroke="#4472C4" stroke-width="2.4" stroke-linejoin="miter"/>
<path d="M710.4,1288.9 L717.4,1274.9 L724.4,1288.9 Z" fill="none" stroke="#4472C4" stroke-width="2.4" stroke-linejoin="miter"/>
<path d="M740.8,1294.4 L747.8,1280.4 L754.8,1294.4 Z" fill="none" stroke="#4472C4" stroke-width="2.4" stroke-linejoin="miter"/>
<path d="M778.9,1304.9 L785.9,1290.9 L792.9,1304.9 Z" fill="none" stroke="#4472C4" stroke-width="2.4" stroke-linejoin="miter"/>
<path d="M810.8,1313.9 L817.8,1299.9 L824.8,1313.9 Z" fill="none" stroke="#4472C4" stroke-width="2.4" stroke-linejoin="miter"/>
<path d="M831.2,1318.3 L838.2,1304.3 L845.2,1318.3 Z" fill="none" stroke="#4472C4" stroke-width="2.4" stroke-linejoin="miter"/>
<path d="M864.3,1323.1 L871.3,1309.1 L878.3,1323.1 Z" fill="none" stroke="#4472C4" stroke-width="2.4" stroke-linejoin="miter"/>
<path d="M900.3,1325.6 L907.3,1311.6 L914.3,1325.6 Z" fill="none" stroke="#4472C4" stroke-width="2.4" stroke-linejoin="miter"/>
<path d="M946.9,1332.5 L953.9,1318.5 L960.9,1332.5 Z" fill="none" stroke="#4472C4" stroke-width="2.4" stroke-linejoin="miter"/>
<polyline points="121.9,785.6 148.0,804.3 183.3,825.2 211.2,843.3 237.6,861.5 263.7,879.4 292.8,898.8 318.9,916.2 339.3,935.6 364.9,947.8 390.4,965.1 415.9,982.5 444.0,1000.5 470.6,1018.0 495.5,1033.9 522.1,1052.5 550.0,1070.0 577.0,1087.7 605.4,1107.2 633.9,1125.0 661.2,1143.5 688.9,1160.4 716.7,1177.9 744.5,1195.6 771.0,1212.3 794.7,1227.8 825.0,1246.7 852.4,1262.8 881.0,1281.5 907.8,1296.9" fill="none" stroke="#A9D18E" stroke-width="5.5" stroke-linecap="round" stroke-linejoin="round" stroke-dasharray="0 11.3" />
<polyline points="121.9,785.6 157.7,824.2 188.3,865.7 202.5,892.6 224.2,911.8 235.4,931.7 257.2,955.2 277.6,981.6 304.0,1006.2 326.4,1034.8 355.2,1062.3 369.1,1072.0 396.0,1101.8 421.3,1122.5 446.0,1144.6 464.2,1156.5 495.8,1179.4 516.4,1192.3 542.3,1208.0 576.2,1226.8 600.4,1236.1 626.4,1249.3 662.2,1263.8 696.4,1275.6 717.4,1281.9 747.8,1287.4 785.9,1297.9 817.8,1306.9 838.2,1311.3 871.3,1316.1 907.3,1318.6 953.9,1325.5" fill="none" stroke="#A9D18E" stroke-width="4.5" stroke-linecap="round" stroke-linejoin="round" stroke-dasharray="0 8.4" />
<path d="M114.8,778.5 L129.1,792.8 M114.8,792.8 L129.1,778.5" fill="none" stroke="#70AD47" stroke-width="2.5"/>
<path d="M140.8,797.1 L155.2,811.4 M140.8,811.4 L155.2,797.1" fill="none" stroke="#70AD47" stroke-width="2.5"/>
<path d="M176.2,818.1 L190.5,832.4 M176.2,832.4 L190.5,818.1" fill="none" stroke="#70AD47" stroke-width="2.5"/>
<path d="M204.0,836.1 L218.3,850.4 M204.0,850.4 L218.3,836.1" fill="none" stroke="#70AD47" stroke-width="2.5"/>
<path d="M230.4,854.4 L244.8,868.6 M230.4,868.6 L244.8,854.4" fill="none" stroke="#70AD47" stroke-width="2.5"/>
<path d="M256.6,872.2 L270.8,886.5 M256.6,886.5 L270.8,872.2" fill="none" stroke="#70AD47" stroke-width="2.5"/>
<path d="M285.7,891.6 L299.9,905.9 M285.7,905.9 L299.9,891.6" fill="none" stroke="#70AD47" stroke-width="2.5"/>
<path d="M311.8,909.1 L326.0,923.4 M311.8,923.4 L326.0,909.1" fill="none" stroke="#70AD47" stroke-width="2.5"/>
<path d="M332.2,928.5 L346.4,942.8 M332.2,942.8 L346.4,928.5" fill="none" stroke="#70AD47" stroke-width="2.5"/>
<path d="M357.8,940.6 L372.0,954.9 M357.8,954.9 L372.0,940.6" fill="none" stroke="#70AD47" stroke-width="2.5"/>
<path d="M383.2,958.0 L397.5,972.2 M383.2,972.2 L397.5,958.0" fill="none" stroke="#70AD47" stroke-width="2.5"/>
<path d="M408.8,975.4 L423.0,989.6 M408.8,989.6 L423.0,975.4" fill="none" stroke="#70AD47" stroke-width="2.5"/>
<path d="M436.9,993.4 L451.1,1007.6 M436.9,1007.6 L451.1,993.4" fill="none" stroke="#70AD47" stroke-width="2.5"/>
<path d="M463.5,1010.9 L477.8,1025.2 M463.5,1025.2 L477.8,1010.9" fill="none" stroke="#70AD47" stroke-width="2.5"/>
<path d="M488.4,1026.8 L502.6,1041.1 M488.4,1041.1 L502.6,1026.8" fill="none" stroke="#70AD47" stroke-width="2.5"/>
<path d="M515.0,1045.3 L529.2,1059.7 M515.0,1059.7 L529.2,1045.3" fill="none" stroke="#70AD47" stroke-width="2.5"/>
<path d="M542.9,1062.8 L557.1,1077.2 M542.9,1077.2 L557.1,1062.8" fill="none" stroke="#70AD47" stroke-width="2.5"/>
<path d="M569.9,1080.5 L584.1,1094.9 M569.9,1094.9 L584.1,1080.5" fill="none" stroke="#70AD47" stroke-width="2.5"/>
<path d="M598.2,1100.0 L612.5,1114.4 M598.2,1114.4 L612.5,1100.0" fill="none" stroke="#70AD47" stroke-width="2.5"/>
<path d="M626.8,1117.8 L641.0,1132.2 M626.8,1132.2 L641.0,1117.8" fill="none" stroke="#70AD47" stroke-width="2.5"/>
<path d="M654.1,1136.3 L668.4,1150.7 M654.1,1150.7 L668.4,1136.3" fill="none" stroke="#70AD47" stroke-width="2.5"/>
<path d="M681.8,1153.2 L696.0,1167.6 M681.8,1167.6 L696.0,1153.2" fill="none" stroke="#70AD47" stroke-width="2.5"/>
<path d="M709.6,1170.8 L723.9,1185.1 M709.6,1185.1 L723.9,1170.8" fill="none" stroke="#70AD47" stroke-width="2.5"/>
<path d="M737.4,1188.4 L751.6,1202.8 M737.4,1202.8 L751.6,1188.4" fill="none" stroke="#70AD47" stroke-width="2.5"/>
<path d="M763.9,1205.1 L778.1,1219.5 M763.9,1219.5 L778.1,1205.1" fill="none" stroke="#70AD47" stroke-width="2.5"/>
<path d="M787.6,1220.6 L801.9,1235.0 M787.6,1235.0 L801.9,1220.6" fill="none" stroke="#70AD47" stroke-width="2.5"/>
<path d="M817.9,1239.5 L832.1,1253.9 M817.9,1253.9 L832.1,1239.5" fill="none" stroke="#70AD47" stroke-width="2.5"/>
<path d="M845.2,1255.6 L859.5,1270.0 M845.2,1270.0 L859.5,1255.6" fill="none" stroke="#70AD47" stroke-width="2.5"/>
<path d="M873.9,1274.3 L888.1,1288.7 M873.9,1288.7 L888.1,1274.3" fill="none" stroke="#70AD47" stroke-width="2.5"/>
<path d="M900.6,1289.8 L914.9,1304.1 M900.6,1304.1 L914.9,1289.8" fill="none" stroke="#70AD47" stroke-width="2.5"/>
<path d="M114.8,778.5 L129.1,792.8 M114.8,792.8 L129.1,778.5" fill="none" stroke="#70AD47" stroke-width="2.5"/>
<path d="M150.5,817.1 L164.8,831.4 M150.5,831.4 L164.8,817.1" fill="none" stroke="#70AD47" stroke-width="2.5"/>
<path d="M181.2,858.6 L195.5,872.9 M181.2,872.9 L195.5,858.6" fill="none" stroke="#70AD47" stroke-width="2.5"/>
<path d="M195.3,885.5 L209.7,899.8 M195.3,899.8 L209.7,885.5" fill="none" stroke="#70AD47" stroke-width="2.5"/>
<path d="M217.0,904.6 L231.3,918.9 M217.0,918.9 L231.3,904.6" fill="none" stroke="#70AD47" stroke-width="2.5"/>
<path d="M228.2,924.6 L242.6,938.9 M228.2,938.9 L242.6,924.6" fill="none" stroke="#70AD47" stroke-width="2.5"/>
<path d="M250.0,948.1 L264.3,962.4 M250.0,962.4 L264.3,948.1" fill="none" stroke="#70AD47" stroke-width="2.5"/>
<path d="M270.5,974.5 L284.8,988.8 M270.5,988.8 L284.8,974.5" fill="none" stroke="#70AD47" stroke-width="2.5"/>
<path d="M296.9,999.1 L311.1,1013.4 M296.9,1013.4 L311.1,999.1" fill="none" stroke="#70AD47" stroke-width="2.5"/>
<path d="M319.2,1027.6 L333.5,1042.0 M319.2,1042.0 L333.5,1027.6" fill="none" stroke="#70AD47" stroke-width="2.5"/>
<path d="M348.1,1055.1 L362.3,1069.5 M348.1,1069.5 L362.3,1055.1" fill="none" stroke="#70AD47" stroke-width="2.5"/>
<path d="M362.0,1064.8 L376.2,1079.2 M362.0,1079.2 L376.2,1064.8" fill="none" stroke="#70AD47" stroke-width="2.5"/>
<path d="M388.9,1094.6 L403.1,1109.0 M388.9,1109.0 L403.1,1094.6" fill="none" stroke="#70AD47" stroke-width="2.5"/>
<path d="M414.2,1115.3 L428.4,1129.7 M414.2,1129.7 L428.4,1115.3" fill="none" stroke="#70AD47" stroke-width="2.5"/>
<path d="M438.9,1137.4 L453.1,1151.8 M438.9,1151.8 L453.1,1137.4" fill="none" stroke="#70AD47" stroke-width="2.5"/>
<path d="M457.1,1149.3 L471.3,1163.7 M457.1,1163.7 L471.3,1149.3" fill="none" stroke="#70AD47" stroke-width="2.5"/>
<path d="M488.7,1172.2 L502.9,1186.6 M488.7,1186.6 L502.9,1172.2" fill="none" stroke="#70AD47" stroke-width="2.5"/>
<path d="M509.2,1185.1 L523.5,1199.5 M509.2,1199.5 L523.5,1185.1" fill="none" stroke="#70AD47" stroke-width="2.5"/>
<path d="M535.1,1200.8 L549.4,1215.2 M535.1,1215.2 L549.4,1200.8" fill="none" stroke="#70AD47" stroke-width="2.5"/>
<path d="M569.1,1219.6 L583.4,1234.0 M569.1,1234.0 L583.4,1219.6" fill="none" stroke="#70AD47" stroke-width="2.5"/>
<path d="M593.2,1228.9 L607.5,1243.2 M593.2,1243.2 L607.5,1228.9" fill="none" stroke="#70AD47" stroke-width="2.5"/>
<path d="M619.2,1242.1 L633.5,1256.5 M619.2,1256.5 L633.5,1242.1" fill="none" stroke="#70AD47" stroke-width="2.5"/>
<path d="M655.1,1256.6 L669.4,1271.0 M655.1,1271.0 L669.4,1256.6" fill="none" stroke="#70AD47" stroke-width="2.5"/>
<path d="M689.2,1268.4 L703.5,1282.8 M689.2,1282.8 L703.5,1268.4" fill="none" stroke="#70AD47" stroke-width="2.5"/>
<path d="M710.2,1274.8 L724.5,1289.1 M710.2,1289.1 L724.5,1274.8" fill="none" stroke="#70AD47" stroke-width="2.5"/>
<path d="M740.6,1280.2 L754.9,1294.6 M740.6,1294.6 L754.9,1280.2" fill="none" stroke="#70AD47" stroke-width="2.5"/>
<path d="M778.8,1290.8 L793.0,1305.1 M778.8,1305.1 L793.0,1290.8" fill="none" stroke="#70AD47" stroke-width="2.5"/>
<path d="M810.6,1299.8 L824.9,1314.1 M810.6,1314.1 L824.9,1299.8" fill="none" stroke="#70AD47" stroke-width="2.5"/>
<path d="M831.1,1304.1 L845.4,1318.5 M831.1,1318.5 L845.4,1304.1" fill="none" stroke="#70AD47" stroke-width="2.5"/>
<path d="M864.1,1308.9 L878.4,1323.2 M864.1,1323.2 L878.4,1308.9" fill="none" stroke="#70AD47" stroke-width="2.5"/>
<path d="M900.1,1311.4 L914.4,1325.8 M900.1,1325.8 L914.4,1311.4" fill="none" stroke="#70AD47" stroke-width="2.5"/>
<path d="M946.8,1318.3 L961.0,1332.7 M946.8,1332.7 L961.0,1318.3" fill="none" stroke="#70AD47" stroke-width="2.5"/>
<line x1="482.4" y1="1013.5" x2="664.8" y2="1013.5" stroke="#000" stroke-width="2.5" stroke-dasharray="9.3 5.7"/>
<line x1="326.3" y1="1187.2" x2="485.6" y2="1187.2" stroke="#000" stroke-width="2.5" stroke-dasharray="9.3 5.7"/>
<rect x="666.5" y="983.1" width="158" height="58" fill="#fff" stroke="#000" stroke-width="1.4"/>
<rect x="166.6" y="1157.6" width="157.5" height="58" fill="#fff" stroke="#000" stroke-width="1.4"/>
<text x="687.0" y="1022.8" font-size="31.5" text-anchor="start" font-style="italic" >Pr = 0.7</text>
<text x="187.0" y="1197" font-size="31.5" text-anchor="start" font-style="italic" >Pr = 15</text>
<line x1="263.7" y1="824.9" x2="332.29999999999995" y2="824.9" stroke="#FFC000" stroke-width="4.6" stroke-linecap="round" stroke-dasharray="0 8.55"/>
<line x1="430.4" y1="824.9" x2="499.0" y2="824.9" stroke="#5B9BD5" stroke-width="4.6" stroke-linecap="round" stroke-dasharray="0 8.55"/>
<line x1="592.4" y1="824.9" x2="661.0" y2="824.9" stroke="#A9D18E" stroke-width="4.6" stroke-linecap="round" stroke-dasharray="0 8.55"/>
<circle cx="299.8" cy="825.0" r="8.6" fill="none" stroke="#FFC000" stroke-width="2.3" stroke-dasharray="6.9 2.1"/>
<path d="M460.2,832.3 L467.2,818.3 L474.2,832.3 Z" fill="none" stroke="#4472C4" stroke-width="2.4" stroke-linejoin="miter"/>
<path d="M622.0,817.8 L636.4,832.2 M622.0,832.2 L636.4,817.8" fill="none" stroke="#70AD47" stroke-width="2.5"/>
<text x="347.0" y="832.8" font-size="31.3" text-anchor="start" >AGM</text>
<text x="514.0" y="832.8" font-size="31.3" text-anchor="start" >HPM</text>
<text x="676.0" y="832.8" font-size="31.3" text-anchor="start" >NUM [32]</text>
<ellipse rx="15.6" ry="11.56" transform="translate(18.39,1053.06) rotate(-48.2)" fill="#000"/>
<ellipse rx="13.24" ry="7.9" transform="translate(18.52,1052.67) rotate(-66.9)" fill="#fff"/>
<line x1="10.2" y1="1051.8" x2="27.0" y2="1051.8" stroke="#2a2a2a" stroke-width="1.6"/>
<text x="535.8" y="1412.0" font-size="33.8" text-anchor="middle" font-style="italic" >η</text>
<text x="536.7" y="1460.5" font-size="34" text-anchor="middle" >(b)</text>
</svg>
</body></html>
